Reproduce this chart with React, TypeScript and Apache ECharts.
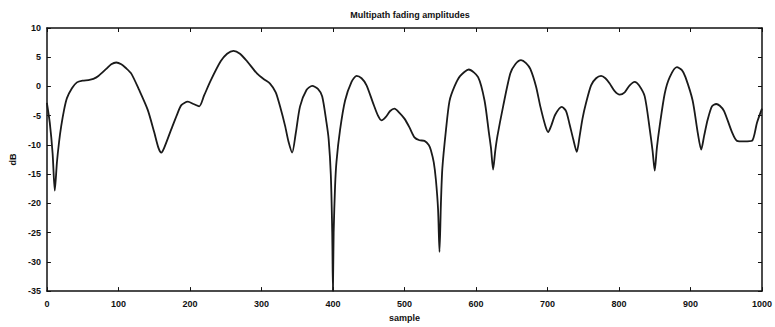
import React, { useEffect, useRef } from "react";
import * as echarts from "echarts";

const titleText = "Multipath fading amplitudes";
const xName = "sample";
const yName = "dB";

const sampleIdx = [
  0, 4, 8, 11, 14, 17, 20, 24, 28, 35, 42, 50, 58, 65, 72, 83, 90, 97, 104, 110,
  118, 129, 141, 150, 156, 160, 164, 174, 182, 188, 197, 205, 213, 220, 229, 243, 252, 261, 270, 280,
  294, 304, 312, 320, 326, 333, 338, 343, 348, 354, 363, 371, 379, 385, 391, 394, 397, 399, 400, 401,
  403, 405, 410, 417, 426, 433, 440, 447, 456, 463, 468, 474, 480, 486, 493, 500, 507, 514, 521, 528,
  534, 537, 541, 544, 547, 549, 551, 553, 558, 563, 570, 578, 590, 603, 612, 618, 621, 624, 627, 630,
  638, 648, 655, 663, 670, 676, 684, 690, 697, 701, 705, 711, 720, 726, 731, 736, 741, 745, 749, 754,
  761, 768, 775, 781, 787, 794, 801, 808, 815, 822, 828, 836, 843, 847, 850, 853, 857, 864, 871, 881,
  888, 893, 903, 910, 915, 919, 924, 930, 936, 941, 947, 958, 965, 975, 986, 993, 1000,
];

const dbValues = [
  -2.8, -6.2, -11.5, -17.8, -13, -9.5, -6.8, -4, -2, -0.3, 0.7, 1.0, 1.1, 1.3, 1.8, 3.0, 3.8, 4.1, 3.8, 3.2,
  2.2, -0.6, -4, -7.8, -10.5, -11.3, -10.5, -7.3, -4.8, -3.2, -2.6, -3.0, -3.4, -1.5, 1.0, 4.3, 5.6, 6.1, 5.6, 4.3,
  2.2, 1.2, 0.5, -1, -3.4, -6.7, -9.5, -11.3, -8, -3.4, -0.6, 0.1, -0.4, -1.7, -6.2, -9, -15, -25, -35, -25,
  -17, -12.8, -7.4, -2.4, 0.8, 1.8, 1.4, 0.2, -2.8, -5.0, -5.8, -5.2, -4.2, -3.8, -4.5, -5.5, -7, -8.7, -9.2, -9.3,
  -10, -10.9, -13, -16, -21, -28.3, -20, -14, -7.5, -2.5, 0, 1.8, 2.9, 1.6, -2.4, -7.8, -10.5, -14.2, -11, -8.5,
  -3.4, 2.2, 3.8, 4.5, 4.0, 3.0, 0, -3.4, -6.7, -7.8, -6.8, -4.8, -3.5, -4.2, -6.5, -9, -11.2, -8.5, -5.5, -2.8,
  0.2, 1.4, 1.8, 1.4, 0.5, -0.8, -1.4, -1.0, 0.2, 0.8, 0.2, -1.7, -7.3, -11, -14.4, -10.5, -6.7, -1.2, 1.6, 3.3,
  2.8, 1.6, -2.4, -7.8, -10.8, -8.5, -5.7, -3.4, -3.0, -3.3, -4.2, -7.8, -9.3, -9.4, -9.3, -6.2, -3.8,
];

const xTicks = [0, 100, 200, 300, 400, 500, 600, 700, 800, 900, 1000];
const yTicks = [10, 5, 0, -5, -10, -15, -20, -25, -30, -35];

export default function App() {
  const ref = useRef<HTMLDivElement>(null);
  useEffect(() => {
    if (!ref.current) return;
    const chart = echarts.init(ref.current, undefined, { renderer: "svg" });
    const font = "Liberation Sans, Arial, sans-serif";
    const axisCommon = {
      axisLine: { show: true, onZero: false, lineStyle: { color: "#111", width: 1.5 } },
      axisTick: { show: true, inside: true, length: 4, lineStyle: { color: "#111", width: 1 } },
      splitLine: { show: false },
    };
    const labelStyle = {
      fontFamily: font,
      fontSize: 9,
      fontWeight: "bold",
      color: "#111",
      formatter: (v: number) => String(v),
    };
    const data = sampleIdx.map((s, i) => [s, dbValues[i]]);
    chart.setOption({
      animation: false,
      backgroundColor: "#fff",
      title: {
        text: titleText,
        left: 405,
        textAlign: "center",
        top: 5,
        textStyle: { fontFamily: font, fontSize: 9, fontWeight: "bold", color: "#111" },
      },
      grid: { left: 45, right: 10, top: 28, bottom: 29 },
      xAxis: [
        {
          type: "value",
          min: xTicks[0],
          max: xTicks[xTicks.length - 1],
          interval: 100,
          position: "bottom",
          name: xName,
          nameLocation: "middle",
          nameGap: 21,
          nameTextStyle: { fontFamily: font, fontSize: 9, fontWeight: "bold", color: "#111" },
          axisLabel: { ...labelStyle, margin: 8 },
          ...axisCommon,
        },
        {
          type: "value",
          min: xTicks[0],
          max: xTicks[xTicks.length - 1],
          interval: 100,
          position: "top",
          axisLabel: { show: false },
          ...axisCommon,
        },
      ],
      yAxis: [
        {
          type: "value",
          min: yTicks[yTicks.length - 1],
          max: yTicks[0],
          interval: 5,
          position: "left",
          name: yName,
          nameLocation: "middle",
          nameGap: 28,
          nameTextStyle: { fontFamily: font, fontSize: 9, fontWeight: "bold", color: "#111" },
          axisLabel: { ...labelStyle, margin: 6 },
          ...axisCommon,
        },
        {
          type: "value",
          min: yTicks[yTicks.length - 1],
          max: yTicks[0],
          interval: 5,
          position: "right",
          axisLabel: { show: false },
          ...axisCommon,
        },
      ],
      series: [
        {
          type: "line",
          data,
          xAxisIndex: 0,
          yAxisIndex: 0,
          showSymbol: false,
          smooth: 0.25,
          clip: true,
          lineStyle: { color: "#1a1a1a", width: 1.8 },
        },
      ],
    });
    return () => chart.dispose();
  }, []);
  return (
    <div
      ref={ref}
      style={{ position: "fixed", left: 0, top: 0, width: 775, height: 327, background: "#fff" }}
    />
  );
}
